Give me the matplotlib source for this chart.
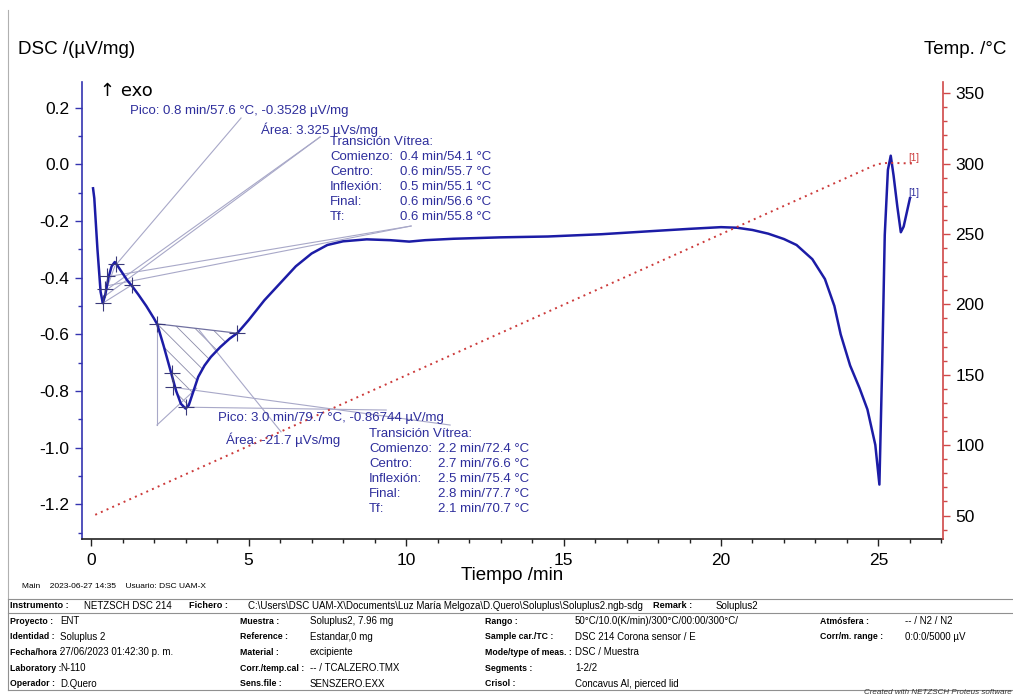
import numpy as np
import matplotlib.pyplot as plt
from matplotlib.ticker import MultipleLocator, FormatStrFormatter

plt.rcParams['font.family'] = ['Liberation Sans', 'DejaVu Sans']
plt.rcParams['axes.unicode_minus'] = False
plt.rcParams['hatch.linewidth'] = 0.6
plt.rcParams['hatch.color'] = '#8a8aa8'

# DSC signal, time /min and DSC /(uV/mg)
t_dsc = [0.06, 0.10, 0.20, 0.30, 0.37, 0.45, 0.55, 0.65, 0.75, 0.85, 1.00, 1.15,
         1.30, 1.50, 1.75, 2.00, 2.10, 2.30, 2.50, 2.70, 2.85, 3.00, 3.10, 3.25,
         3.40, 3.60, 3.80, 4.10, 4.40, 4.65, 5.00, 5.50, 6.00, 6.50, 7.00, 7.50,
         8.00, 8.75, 9.50, 10.1, 10.6, 11.5, 13.0, 14.5, 16.2, 17.8, 19.0, 20.0,
         20.5, 21.0, 21.5, 22.0, 22.4, 22.9, 23.3, 23.6, 23.8, 24.1, 24.4, 24.65,
         24.9, 25.03, 25.12, 25.2, 25.3, 25.39, 25.48, 25.6, 25.71, 25.8, 25.9, 26.0]
v_dsc = [-0.085, -0.12, -0.30, -0.45, -0.49, -0.46, -0.40, -0.36, -0.345, -0.36, -0.385, -0.41,
         -0.43, -0.46, -0.50, -0.545, -0.565, -0.64, -0.72, -0.80, -0.845, -0.862, -0.85, -0.80,
         -0.75, -0.71, -0.68, -0.645, -0.615, -0.595, -0.55, -0.48, -0.42, -0.36, -0.315, -0.285,
         -0.272, -0.265, -0.268, -0.273, -0.268, -0.263, -0.258, -0.255, -0.247, -0.236, -0.228, -0.222,
         -0.224, -0.232, -0.245, -0.264, -0.285, -0.335, -0.405, -0.50, -0.60, -0.71, -0.79, -0.865,
         -0.99, -1.13, -0.70, -0.25, -0.02, 0.03, -0.04, -0.15, -0.24, -0.22, -0.17, -0.12]

# temperature program, time /min and Temp. /C
t_temp = [0.13, 24.95, 25.3, 26.1]
T_temp = [50.5, 299.5, 300.5, 300.0]

# evaluation 1 (glass transition ~0.5 min)
ev1_marks_t = [0.8, 0.5, 0.37, 1.29, 0.45]
ev1_marks_v = [-0.353, -0.394, -0.49, -0.426, -0.44]
ev1_lines = [((0.80, -0.353), (4.76, 0.163)),
             ((0.44, -0.447), (7.27, 0.096)),
             ((0.38, -0.47), (7.27, 0.096)),
             ((0.51, -0.397), (10.16, -0.218)),
             ((0.45, -0.43), (10.16, -0.218)),
             ((0.37, -0.49), (1.29, -0.426)),
             ((0.33, -0.49), (0.75, -0.36))]

# evaluation 2 (peak ~3.0 min)
base_t = [2.09, 4.64]
base_v = [-0.563, -0.596]
ev2_marks_t = [2.09, 4.64, 2.56, 2.61, 3.0]
ev2_marks_v = [-0.563, -0.596, -0.735, -0.787, -0.857]
ev2_lines = [((2.09, -0.563), (2.09, -0.92)),
             ((2.09, -0.92), (3.35, -0.79)),
             ((2.61, -0.787), (11.4, -0.92)),
             ((3.0, -0.857), (9.37, -0.867)),
             ((3.43, -0.585), (6.03, -0.944))]

W, H = 1013, 698
fig = plt.figure(figsize=(W / 100, H / 100), dpi=100)


def fx(x):
    return x / W


def fy(y):
    return 1 - y / H


blue = '#1c1ca6'
tblue = '#2e2e9c'
red = '#cc3a3a'
gline = '#a8a8c8'

ax = fig.add_axes([fx(81.7), fy(539.3), (942.7 - 81.7) / W, (539.3 - 81.7) / H])
ax.set_xlim(-0.3, 27.04)
ax.set_ylim(-1.323, 0.291)
ax2 = ax.twinx()
ax2.set_ylim(33.1, 358.1)

# temperature
ax2.plot(t_temp, T_temp, color=red, lw=1.4, linestyle=(0, (1, 2.2)))

# construction lines
for (a, b) in ev1_lines + ev2_lines:
    ax.plot([a[0], b[0]], [a[1], b[1]], color=gline, lw=0.8)
ax.plot(base_t, base_v, color='#7070a0', lw=0.9)

# hatched area between baseline and curve
t_arr = np.array(t_dsc)
v_arr = np.array(v_dsc)
sel = (t_arr >= base_t[0]) & (t_arr <= base_t[1])
tt = np.concatenate([[base_t[0]], t_arr[sel], [base_t[1]]])
vv = np.concatenate([[base_v[0]], v_arr[sel], [base_v[1]]])
bb = np.interp(tt, base_t, base_v)
ax.fill_between(tt, vv, bb, facecolor='none', edgecolor='#8a8aa8', hatch='\\\\', lw=0)

# DSC curve
ax.plot(t_dsc, v_dsc, color=blue, lw=1.8)

ax.plot(ev1_marks_t, ev1_marks_v, '+', color='#3a3a7a', ms=11, mew=0.8)
ax.plot(ev2_marks_t, ev2_marks_v, '+', color='#3a3a7a', ms=11, mew=0.8)

# axes styling
ax.spines['top'].set_visible(False)
ax.spines['right'].set_visible(False)
ax.spines['left'].set_color('#3434b0')
ax.spines['bottom'].set_color('#222222')
ax.spines['left'].set_linewidth(1.2)
ax.spines['bottom'].set_linewidth(1.2)
for s in ['top', 'left', 'bottom']:
    ax2.spines[s].set_visible(False)
ax2.spines['right'].set_color('#d04848')
ax2.spines['right'].set_linewidth(1.2)

ax.xaxis.set_major_locator(MultipleLocator(5))
ax.xaxis.set_minor_locator(MultipleLocator(1))
ax.yaxis.set_major_locator(MultipleLocator(0.2))
ax.yaxis.set_minor_locator(MultipleLocator(0.1))
ax.yaxis.set_major_formatter(FormatStrFormatter('%.1f'))
ax2.yaxis.set_major_locator(MultipleLocator(50))
ax2.yaxis.set_minor_locator(MultipleLocator(10))

ax.tick_params(axis='x', which='major', length=5, width=1, color='#222222', labelsize=12.5, pad=5)
ax.tick_params(axis='x', which='minor', length=3, width=1, color='#222222')
ax.tick_params(axis='y', which='major', length=5, width=1, color='#3434b0', labelsize=12.5, pad=4)
ax.tick_params(axis='y', which='minor', length=3, width=1, color='#3434b0')
ax2.tick_params(axis='y', which='major', length=5, width=1, color='#d04848', labelsize=12.5, pad=4)
ax2.tick_params(axis='y', which='minor', length=3, width=1, color='#d04848')

# titles
fig.text(fx(18), fy(50), 'DSC /(µV/mg)', fontsize=13.5, va='center', ha='left')
fig.text(fx(1006), fy(50), 'Temp. /°C', fontsize=13.5, va='center', ha='right')
fig.text(fx(512), fy(576), 'Tiempo /min', fontsize=13.5, va='center', ha='center')
fig.text(fx(100), fy(91), '↑ exo', fontsize=13, va='center', ha='left', family=['DejaVu Sans'])

# annotations, event 1
fs = 9.5
fig.text(fx(130), fy(111), 'Pico: 0.8 min/57.6 °C, -0.3528 µV/mg', fontsize=fs, color=tblue, va='center')
fig.text(fx(261), fy(130), 'Área: 3.325 µVs/mg', fontsize=fs, color=tblue, va='center')
labels_tv = ['Comienzo:', 'Centro:', 'Inflexión:', 'Final:', 'Tf:']
vals1 = ['0.4 min/54.1 °C', '0.6 min/55.7 °C', '0.5 min/55.1 °C', '0.6 min/56.6 °C', '0.6 min/55.8 °C']
fig.text(fx(330), fy(142), 'Transición Vítrea:', fontsize=fs, color=tblue, va='center')
for i in range(5):
    fig.text(fx(330), fy(157 + 15 * i), labels_tv[i], fontsize=fs, color=tblue, va='center')
    fig.text(fx(400), fy(157 + 15 * i), vals1[i], fontsize=fs, color=tblue, va='center')

# annotations, event 2
vals2 = ['2.2 min/72.4 °C', '2.7 min/76.6 °C', '2.5 min/75.4 °C', '2.8 min/77.7 °C', '2.1 min/70.7 °C']
fig.text(fx(218), fy(418), 'Pico: 3.0 min/79.7 °C, -0.86744 µV/mg', fontsize=fs, color=tblue, va='center')
fig.text(fx(226), fy(440), 'Área: -21.7 µVs/mg', fontsize=fs, color=tblue, va='center')
fig.text(fx(369), fy(434), 'Transición Vítrea:', fontsize=fs, color=tblue, va='center')
for i in range(5):
    fig.text(fx(369), fy(449 + 15 * i), labels_tv[i], fontsize=fs, color=tblue, va='center')
    fig.text(fx(438), fy(449 + 15 * i), vals2[i], fontsize=fs, color=tblue, va='center')

# curve tags
fig.text(fx(908), fy(158), '[1]', fontsize=7, color=red, va='center')
fig.text(fx(908), fy(193), '[1]', fontsize=7, color=tblue, va='center')

# frame line on the left
fig.add_artist(plt.Line2D([fx(8), fx(8)], [fy(10), fy(598)], color='#b0b0b0', lw=0.8))

# footer
ff = ['Liberation Sans', 'DejaVu Sans']
fs_lab = 6.3
fs_val = 7.0
fig.text(fx(22), fy(586), 'Main    2023-06-27 14:35    Usuario: DSC UAM-X', fontsize=6, family=ff, va='center')
for yy in [599, 613, 690]:
    fig.add_artist(plt.Line2D([fx(8), fx(1013)], [fy(yy), fy(yy)], color='#909090', lw=0.8))
fig.add_artist(plt.Line2D([fx(8), fx(8)], [fy(599), fy(690)], color='#909090', lw=0.8))

head = [('Instrumento :', 10, 'bold'), ('NETZSCH DSC 214', 84, 'normal'), ('Fichero :', 189, 'bold'),
        (r'C:\Users\DSC UAM-X\Documents\Luz María Melgoza\D.Quero\Soluplus\Soluplus2.ngb-sdg', 248, 'normal'),
        ('Remark :', 653, 'bold'), ('Soluplus2', 716, 'normal')]
for txt, x, w in head:
    fig.text(fx(x), fy(606), txt, fontsize=7.0 if w == 'normal' else 6.6, family=ff, weight=w, va='center')

col_lab_x = [10, 240, 485, 820]
col_val_x = [60, 310, 575, 905]
rows = [
    [('Proyecto :', 'ENT'), ('Muestra :', 'Soluplus2, 7.96 mg'),
     ('Rango :', '50°C/10.0(K/min)/300°C/00:00/300°C/'), ('Atmósfera :', '-- / N2 / N2')],
    [('Identidad :', 'Soluplus 2'), ('Reference :', 'Estandar,0 mg'),
     ('Sample car./TC :', 'DSC 214 Corona sensor / E'), ('Corr/m. range :', '0:0:0/5000 µV')],
    [('Fecha/hora :', '27/06/2023 01:42:30 p. m.'), ('Material :', 'excipiente'),
     ('Mode/type of meas. :', 'DSC / Muestra'), None],
    [('Laboratory :', 'N-110'), ('Corr./temp.cal :', '-- / TCALZERO.TMX'),
     ('Segments :', '1-2/2'), None],
    [('Operador :', 'D.Quero'), ('Sens.file :', 'SENSZERO.EXX'),
     ('Crisol :', 'Concavus Al, pierced lid'), None],
]
for r, row in enumerate(rows):
    yy = 621 + 15.7 * r
    for c, cell in enumerate(row):
        if cell is None:
            continue
        fig.text(fx(col_lab_x[c]), fy(yy), cell[0], fontsize=fs_lab, family=ff, weight='bold', va='center')
        fig.text(fx(col_val_x[c]), fy(yy), cell[1], fontsize=fs_val, family=ff, va='center')

fig.text(fx(1012), fy(692), 'Created with NETZSCH Proteus software', fontsize=5.8, family=ff,
         style='italic', ha='right', va='center', color='#333333')

fig.savefig('out.png', dpi=100)
